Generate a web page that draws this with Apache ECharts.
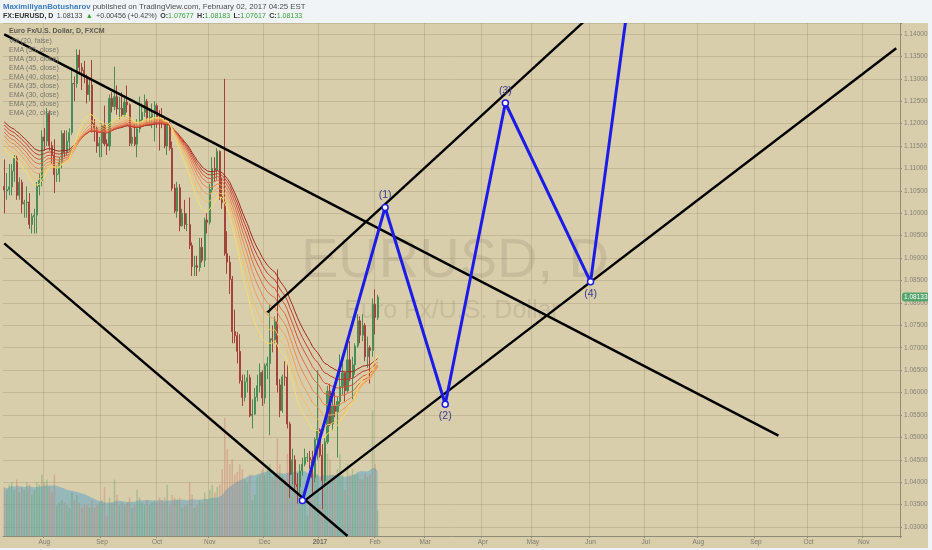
<!DOCTYPE html>
<html><head><meta charset="utf-8">
<script src="https://cdn.jsdelivr.net/npm/echarts@6/dist/echarts.min.js"></script>
<style>html,body{margin:0;padding:0;background:#fff}#c{width:932px;height:550px}</style>
</head><body><div id="c"></div>
<script>
// ---------- DATA ----------
const firstDate = '2016-07-08';
const lastDate = '2017-11-21';
const monthNames = ['Jan','Feb','Mar','Apr','May','Jun','Jul','Aug','Sep','Oct','Nov','Dec'];

const opens = [1.1060,1.1050,1.1053,1.1059,1.1094,1.1122,1.1040,1.1069,1.1021,1.1024,1.1025,1.0975,1.0993,1.0996,1.1060,1.1073,
1.1170,1.1161,1.1223,1.1151,1.1130,1.1086,1.1088,1.1114,1.1178,1.1136,1.1160,1.1180,1.1290,1.1289,1.1353,1.1325,1.1319,1.1305,1.1265,1.1286,1.1200,1.1189,1.1150,
1.1157,1.1196,1.1155,1.1150,1.1256,1.1238,1.1260,1.1233,1.1234,1.1220,1.1248,1.1242,1.1156,1.1170,1.1154,1.1188,1.1208,1.1225,1.1250,1.1213,1.1215,1.1222,
1.1240,1.1210,1.1206,1.1204,1.1150,1.1200,1.1145,1.1056,1.1005,1.1057,1.0972,1.1000,1.0975,1.0975,1.0928,1.0881,1.0883,1.0879,1.0924,1.0895,1.0985,
1.0980,1.1053,1.1100,1.1096,1.1138,1.1037,1.1024,1.0910,1.0891,1.0853,1.0736,1.0727,1.0692,1.0626,1.0589,1.0624,1.0633,1.0548,1.0552,1.0590,1.0615,1.0645,
1.0588,1.0660,1.0665,1.0720,1.0718,1.0759,1.0617,1.0560,1.0635,1.0634,1.0530,1.0417,1.0450,1.0395,1.0390,1.0425,1.0440,1.0455,1.0455,1.0450,1.0410,1.0495,
1.0517,1.0460,1.0403,1.0490,1.0603,1.0530,1.0572,1.0558,1.0580,1.0614,1.0644,1.0604,1.0673,1.0633,1.0662,1.0704,1.0760,1.0728,1.0750,1.0680,1.0700,1.0694,1.0797,1.07677];
const highs = [1.1120,1.1090,1.1110,1.1110,1.1130,1.1130,1.1080,1.1075,1.1030,1.1060,1.1045,1.1000,1.1010,1.1070,1.1090,1.1185,
1.1190,1.1235,1.1230,1.1160,1.1165,1.1105,1.1125,1.1185,1.1185,1.1185,1.1190,1.1325,1.1305,1.1366,1.1365,1.1335,1.1340,1.1310,1.1300,1.1342,1.1210,1.1195,1.1170,
1.1200,1.1240,1.1165,1.1265,1.1270,1.1327,1.1285,1.1260,1.1270,1.1260,1.1285,1.1245,1.1190,1.1200,1.1210,1.1260,1.1245,1.1265,1.1255,1.1235,1.1245,1.1250,
1.1245,1.1230,1.1235,1.1215,1.1205,1.1205,1.1160,1.1065,1.1070,1.1065,1.1010,1.1030,1.1000,1.1035,1.0935,1.0905,1.0905,1.0945,1.0945,1.0990,1.1000,
1.1065,1.1125,1.1125,1.1145,1.1140,1.1080,1.1300,1.0960,1.0905,1.0860,1.0785,1.0735,1.0730,1.0640,1.0640,1.0650,1.0640,1.0585,1.0610,1.0640,1.0665,1.0650,
1.0665,1.0680,1.0795,1.0750,1.0770,1.0875,1.0630,1.0640,1.0670,1.0665,1.0535,1.0475,1.0460,1.0420,1.0440,1.0455,1.0475,1.0465,1.0470,1.0470,1.0500,1.0650,
1.0520,1.0485,1.0500,1.0615,1.0620,1.0585,1.0600,1.0590,1.0685,1.0665,1.0645,1.0715,1.0715,1.0680,1.0710,1.0775,1.0770,1.0775,1.0755,1.0725,1.0705,1.0810,1.0830,1.08183];
const lows = [1.1000,1.1030,1.1040,1.1040,1.1070,1.1030,1.1030,1.1000,1.0990,1.0990,1.0965,1.0955,1.0955,1.0955,1.1040,1.1060,
1.1140,1.1150,1.1140,1.1110,1.1045,1.1070,1.1070,1.1100,1.1125,1.1130,1.1140,1.1175,1.1250,1.1280,1.1310,1.1275,1.1290,1.1245,1.1250,1.1180,1.1160,1.1135,1.1125,
1.1125,1.1150,1.1130,1.1140,1.1225,1.1230,1.1220,1.1210,1.1215,1.1215,1.1225,1.1150,1.1150,1.1150,1.1125,1.1180,1.1200,1.1215,1.1195,1.1195,1.1190,1.1160,
1.1190,1.1140,1.1190,1.1145,1.1130,1.1140,1.1050,1.1000,1.0990,1.0960,1.0970,1.0965,1.0960,1.0920,1.0860,1.0860,1.0860,1.0870,1.0890,1.0880,1.0955,
1.0975,1.1045,1.1070,1.1075,1.1030,1.1010,1.0905,1.0865,1.0820,1.0710,1.0710,1.0665,1.0620,1.0570,1.0580,1.0600,1.0545,1.0520,1.0550,1.0580,1.0600,1.0570,
1.0575,1.0630,1.0505,1.0690,1.0710,1.0600,1.0545,1.0555,1.0615,1.0520,1.0365,1.0395,1.0385,1.0352,1.0375,1.0415,1.0435,1.0445,1.0430,1.0375,1.0400,1.0450,
1.0455,1.0340,1.0390,1.0485,1.0525,1.0515,1.0545,1.0455,1.0570,1.0595,1.0580,1.0600,1.0625,1.0585,1.0640,1.0700,1.0710,1.0715,1.0670,1.0655,1.0620,1.0680,1.0730,1.07617];
const closes = [1.1052,1.1053,1.1059,1.1094,1.1122,1.1040,1.1069,1.1021,1.1024,1.1025,1.0975,1.0993,1.0996,1.1060,1.1073,1.1170,
1.1161,1.1223,1.1151,1.1130,1.1086,1.1088,1.1114,1.1178,1.1136,1.1160,1.1180,1.1290,1.1289,1.1353,1.1325,1.1319,1.1305,1.1265,1.1286,1.1200,1.1189,1.1150,1.1157,
1.1196,1.1155,1.1150,1.1256,1.1238,1.1260,1.1233,1.1234,1.1220,1.1248,1.1242,1.1156,1.1170,1.1154,1.1188,1.1208,1.1225,1.1250,1.1213,1.1215,1.1222,1.1240,
1.1210,1.1206,1.1204,1.1150,1.1200,1.1145,1.1056,1.1005,1.1057,1.0972,1.1000,1.0975,1.0975,1.0928,1.0881,1.0883,1.0879,1.0924,1.0895,1.0985,1.0980,
1.1053,1.1100,1.1096,1.1138,1.1037,1.1024,1.0910,1.0891,1.0853,1.0736,1.0727,1.0692,1.0626,1.0589,1.0624,1.0633,1.0548,1.0552,1.0590,1.0615,1.0645,1.0588,
1.0660,1.0665,1.0720,1.0718,1.0759,1.0617,1.0560,1.0635,1.0634,1.0530,1.0417,1.0450,1.0395,1.0390,1.0425,1.0440,1.0455,1.0455,1.0450,1.0410,1.0495,1.0517,
1.0460,1.0403,1.0490,1.0603,1.0530,1.0572,1.0558,1.0580,1.0614,1.0644,1.0604,1.0673,1.0633,1.0662,1.0704,1.0760,1.0728,1.0750,1.0680,1.0700,1.0694,1.0797,1.07677,1.08133];
// tick volume, thousands
const volumes = [95,90,100,105,90,110,85,95,90,105,100,80,90,105,100,120,
105,110,95,85,120,60,65,70,65,60,55,85,70,80,65,55,60,60,55,70,55,60,65,
70,95,40,75,65,110,80,60,65,60,65,75,55,60,90,75,65,60,70,60,65,70,
65,75,70,75,100,60,80,75,70,75,55,60,60,105,80,55,60,70,65,85,70,
90,100,85,95,100,130,230,170,140,150,120,125,140,130,110,105,120,70,80,115,120,130,
120,130,140,115,120,190,140,120,110,160,170,140,110,115,110,90,85,40,80,110,120,120,
60,170,150,160,150,120,120,130,160,120,90,140,120,130,120,120,110,110,120,115,120,245,140,50];
const volMaPeriod = 20;

const emaPeriods = [55, 50, 45, 40, 35, 30, 25, 20];
const emaStart   = [1.1204, 1.1197, 1.1189, 1.1181, 1.1173, 1.1164, 1.1155, 1.1146];
const emaColors  = ['#a3281f','#c23a2e','#d4503a','#e26a45','#ec8550','#f2a25a','#f5c062','#f4dd68'];

const lastPrice = 1.08133;

// drawings (date, price)
const line1Dates = ['2016-07-08', '2017-09-14'], line1Prices = [1.1399, 1.0504];
const line2Dates = ['2016-07-08', '2017-01-17'], line2Prices = [1.0933, 1.0280];
const line3Dates = ['2016-12-22', '2017-11-20'], line3Prices = [1.0355, 1.1368];
const line4Dates = ['2016-12-02', '2017-05-29'], line4Prices = [1.0779, 1.1426];
const waveDates  = ['2016-12-22','2017-02-07','2017-03-13','2017-04-14','2017-06-01','2017-06-23'];
const wavePrices = [1.0359, 1.1013, 1.0574, 1.1246, 1.0847, 1.1512];
const waveLabels = ['', '(1)', '(2)', '(3)', '(4)', ''];
const waveLabelPos = ['top','top','bottom','top','bottom','top'];

const legendLines = ['Euro Fx/U.S. Dollar, D, FXCM','Vol (20, false)','EMA (55, close)','EMA (50, close)','EMA (45, close)','EMA (40, close)','EMA (35, close)','EMA (30, close)','EMA (25, close)','EMA (20, close)'];

// ---------- BUILD ----------
function fmt(d){const m=d.getUTCMonth()+1, dd=d.getUTCDate();return d.getUTCFullYear()+'-'+(m<10?'0':'')+m+'-'+(dd<10?'0':'')+dd;}
const dates = [];
(function(){
  const p = s => {const a=s.split('-');return Date.UTC(+a[0],+a[1]-1,+a[2]);};
  for (let t=p(firstDate); t<=p(lastDate); t+=86400000){
    const d=new Date(t); const w=d.getUTCDay(); if(w!==0&&w!==6) dates.push(fmt(d));
  }
})();
function isMonthStart(i){ return i>0 && dates[i].slice(5,7)!==dates[i-1].slice(5,7); }
function monthLabel(v){ const m=+v.slice(5,7); return m===1 ? '{y|'+v.slice(0,4)+'}' : monthNames[m-1]; }

const candleData = closes.map((c,i)=>[opens[i], c, lows[i], highs[i]]);
function ema(period, seed){ const a=2/(period+1); let e=seed; return closes.map((c,i)=>{ if(i>0) e=a*c+(1-a)*e; return +e.toFixed(5);}); }
const volMa = volumes.map((v,i)=>{ const s=Math.max(0,i-volMaPeriod+1); let t=0; for(let k=s;k<=i;k++) t+=volumes[k]; return +(t/(i-s+1)).toFixed(1);});
const volData = volumes.map((v,i)=>({value:v, itemStyle:{color: closes[i]>=opens[i] ? 'rgba(100,160,95,0.38)' : 'rgba(205,120,100,0.4)'}}));

const onTick = v => Math.abs(v/0.005 - Math.round(v/0.005)) < 1e-6;

function trend(name, ds, ps){
  return {name, type:'line', xAxisIndex:0, yAxisIndex:0, data: ds.map((d,i)=>[d, ps[i]]), symbol:'none',
    lineStyle:{color:'#000', width:2.4}, z:6, silent:true, clip:true};
}

const series = [];
series.push({name:'VolMA', type:'line', xAxisIndex:1, yAxisIndex:1, data: volMa, symbol:'none', smooth:false,
  lineStyle:{width:0}, areaStyle:{color:'rgba(104,168,196,0.84)'}, z:1, silent:true});
series.push({name:'Vol', type:'bar', xAxisIndex:1, yAxisIndex:1, data: volData, barWidth:'60%', z:1, silent:true});
series.push({name:'EURUSD', type:'candlestick', xAxisIndex:0, yAxisIndex:0, data: candleData, barWidth:'62%', z:3, silent:true,
  itemStyle:{color:'#4b8d58', color0:'#a3433a', borderColor:'#4b8d58', borderColor0:'#a3433a', borderWidth:1}});
emaPeriods.forEach((p,k)=>{
  series.push({name:'EMA'+p, type:'line', xAxisIndex:0, yAxisIndex:0, data: ema(p, emaStart[k]), symbol:'none',
    lineStyle:{color: emaColors[k], width:1}, z:4, silent:true});
});
series.push(trend('L1', line1Dates, line1Prices));
series.push(trend('L2', line2Dates, line2Prices));
series.push(trend('L3', line3Dates, line3Prices));
series.push(trend('L4', line4Dates, line4Prices));
series.push({name:'Wave', type:'line', xAxisIndex:0, yAxisIndex:0, z:7, silent:true, clip:true, showAllSymbol:true,
  lineStyle:{color:'#1c1ce8', width:3},
  labelLayout:{hideOverlap:false},
  data: waveDates.map((d,i)=>({value:[d, wavePrices[i]],
    symbol: i===waveDates.length-1 ? 'none' : 'circle', symbolSize:6,
    itemStyle:{color:'#ffffff', borderColor:'#1c1ce8', borderWidth:1.5},
    label:{show: !!waveLabels[i], formatter: waveLabels[i], position: waveLabelPos[i], distance:3,
      color:'#3b3a8e', fontSize:10.5, fontFamily:'Liberation Sans'}}))
});

const axisCol = '#8e8a78';
const gridCol = 'rgba(140,128,92,0.26)';
const option = {
  animation:false,
  backgroundColor:'#d8ceac',
  textStyle:{fontFamily:'Liberation Sans'},
  axisPointer:{triggerOn:'none'},
  grid:[{left:3, right:32, top:23, bottom:14}, {left:3, right:32, top:23, bottom:14}],
  xAxis:[
    {type:'category', gridIndex:0, data: dates, boundaryGap:true,
      axisLine:{show:true, lineStyle:{color:axisCol}},
      axisTick:{show:true, interval:(i)=>isMonthStart(i), length:2, lineStyle:{color:axisCol}},
      axisLabel:{show:true, interval:(i)=>isMonthStart(i), formatter: monthLabel, color:'#7e7b70', fontSize:6.5, margin:3,
        rich:{y:{fontWeight:'bold', color:'#6e6b62', fontSize:6.5}}},
      splitLine:{show:true, interval:(i)=>isMonthStart(i), lineStyle:{color:gridCol, width:1}}},
    {type:'category', gridIndex:1, data: dates, boundaryGap:true, show:false}
  ],
  yAxis:[
    {type:'value', gridIndex:0, position:'right', min:1.0280, max:1.14245, splitNumber:23, minInterval:0.005, maxInterval:0.005,
      axisLine:{show:true, lineStyle:{color:axisCol}},
      axisTick:{show:true, length:2, lineStyle:{color:axisCol}},
      axisLabel:{color:'#85827a', fontSize:6.5, margin:4, formatter: v => onTick(v) ? v.toFixed(5) : ''},
      splitLine:{show:true, lineStyle:{color:gridCol, width:1}},
      axisPointer:{show:true, status:'show', value:lastPrice, snap:false, triggerTooltip:false,
        lineStyle:{width:0, opacity:0},
        label:{show:true, formatter: () => lastPrice.toFixed(5), color:'#ffffff', backgroundColor:'#55a46e',
          padding:[1,2,1,2], fontSize:6.5, fontFamily:'Liberation Sans', margin:2, borderWidth:0, shadowBlur:0}}},
    {type:'value', gridIndex:1, min:0, max:1000, show:false, splitLine:{show:false}}
  ],
  graphic:[
    {type:'text', z:1, x:455, y:262, style:{text:'EURUSD, D', align:'center', verticalAlign:'middle',
      fontSize:56, fontFamily:'Liberation Sans', fill:'rgba(85,80,62,0.13)'}},
    {type:'text', z:1, x:452, y:311, style:{text:'Euro Fx/U.S. Dollar', align:'center', verticalAlign:'middle',
      fontSize:25, fontFamily:'Liberation Sans', fill:'rgba(85,80,62,0.13)'}},
    {type:'rect', z:100, shape:{x:0, y:0, width:932, height:23}, style:{fill:'#f1f4f7'}},
    {type:'rect', z:100, shape:{x:928, y:0, width:4, height:550}, style:{fill:'#f1f4f7'}},
    {type:'rect', z:100, shape:{x:0, y:548, width:932, height:2}, style:{fill:'#f1f4f7'}},
    {type:'text', z:101, x:3, y:6.5, style:{verticalAlign:'middle', fontFamily:'Liberation Sans',
      text:'{a|MaximiliyanBotusharov}{b| published on TradingView.com, February 02, 2017 04:25 EST}',
      rich:{a:{fontSize:7.8, fontWeight:'bold', fill:'#3b7dbf', fontFamily:'Liberation Sans'}, b:{fontSize:7.8, fill:'#4a4a4a', fontFamily:'Liberation Sans'}}}},
    {type:'text', z:101, x:3, y:16, style:{verticalAlign:'middle', fontFamily:'Liberation Sans',
      text:'{k|FX:EURUSD, D} {n|1.08133} {g|▲} {n|+0.00456 (+0.42%)} {k|O:}{g|1.07677} {k|H:}{g|1.08183} {k|L:}{g|1.07617} {k|C:}{g|1.08133}',
      rich:{k:{fontSize:7.1, fontWeight:'bold', fill:'#333', fontFamily:'Liberation Sans'}, n:{fontSize:7.1, fill:'#444', fontFamily:'Liberation Sans'},
            g:{fontSize:7.1, fill:'#3aa33a', fontFamily:'Liberation Sans'}}}},
    {type:'group', z:50, x:9, y:31.5, children: legendLines.map((t,i)=>({type:'text', z:50, x:0, y:i*9.1,
      style:{text:t, verticalAlign:'middle', fontSize:7, fontWeight: i===0?'bold':'normal', fill: i===0?'#5a5850':'#77756c', fontFamily:'Liberation Sans'}}))}
  ],
  series
};
const chart = echarts.init(document.getElementById('c'), null, {renderer:'canvas'});
chart.setOption(option);
</script></body></html>
